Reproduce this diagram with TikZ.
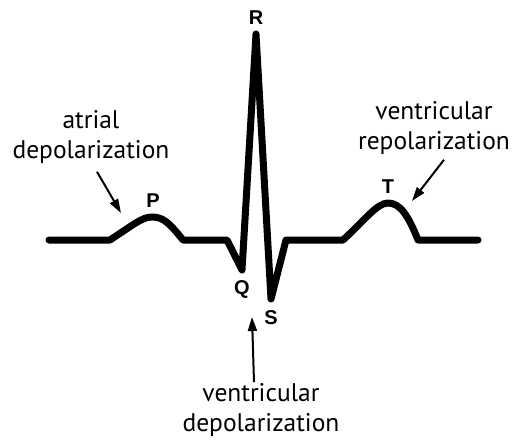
\documentclass[tikz,border=0pt]{standalone}
\usepackage{fontspec}
\setmainfont{PT Sans}
\newfontfamily\letterfont{Liberation Sans}
\usetikzlibrary{arrows.meta,positioning}
\tikzset{
    trace/.style={line width=7pt, line join=round, line cap=round},
    wave label/.style={font=\letterfont\bfseries\fontsize{20}{22}\selectfont, inner sep=0pt},
    caption/.style={align=center, inner sep=0pt, font=\fontsize{25.5}{30}\selectfont},
    pointer/.style={line width=2pt, -{Triangle[length=14pt,width=9pt]}},
}

\begin{document}
\begin{tikzpicture}[x=1pt, y=-1pt]
    \useasboundingbox (0,0) rectangle (514,441);

    % points of the trace
    \coordinate (start) at (49,240);
    \coordinate (p0) at (110,240);
    \coordinate (ptop) at (152,217);
    \coordinate (p1) at (183,240);
    \coordinate (q0) at (227,240);
    \coordinate (qpt) at (242,270);
    \coordinate (rpt) at (256,34);
    \coordinate (spt) at (271,299);
    \coordinate (s1) at (286,240);
    \coordinate (t0) at (343,240);
    \coordinate (ttop) at (388,203);
    \coordinate (t1) at (418,240);
    \coordinate (stop) at (478,240);

    % the trace
    \draw[trace] (start) -- (p0)
        .. controls (133,225) and (142,217) .. (ptop)
        .. controls (164,217) and (170,224) .. (p1)
        -- (q0) -- (qpt) -- (rpt) -- (spt) -- (s1) -- (t0)
        .. controls (365,220) and (377,203) .. (ttop)
        .. controls (400,203) and (408,215) .. (t1)
        -- (stop);

    % wave letters
    \node[wave label] (P) at (153,201) {P};
    \node[wave label] (Q) at (242,289) {Q};
    \node[wave label] (R) at (256,18) {R};
    \node[wave label] (S) at (271,318) {S};
    \node[wave label] (T) at (388,187) {T};

    % captions
    \node[caption] (atrial) at (91,137) {atrial\\depolarization};
    \node[caption] (repol) at (434,128) {ventricular\\repolarization};
    \node[caption] (vdep) at (261,410) {ventricular\\depolarization};

    % arrow tips
    \coordinate (pTip) at (121,213);
    \coordinate (tTip) at (412,201);
    \coordinate (qrsTip) at (252,317);

    \draw[pointer] ([shift={(6,8)}]atrial.south) -- (pTip);
    \draw[pointer] ([shift={(10,5)}]repol.south) -- (tTip);
    \draw[pointer] ([shift={(-7,-1)}]vdep.north) -- (qrsTip);
\end{tikzpicture}
\end{document}
